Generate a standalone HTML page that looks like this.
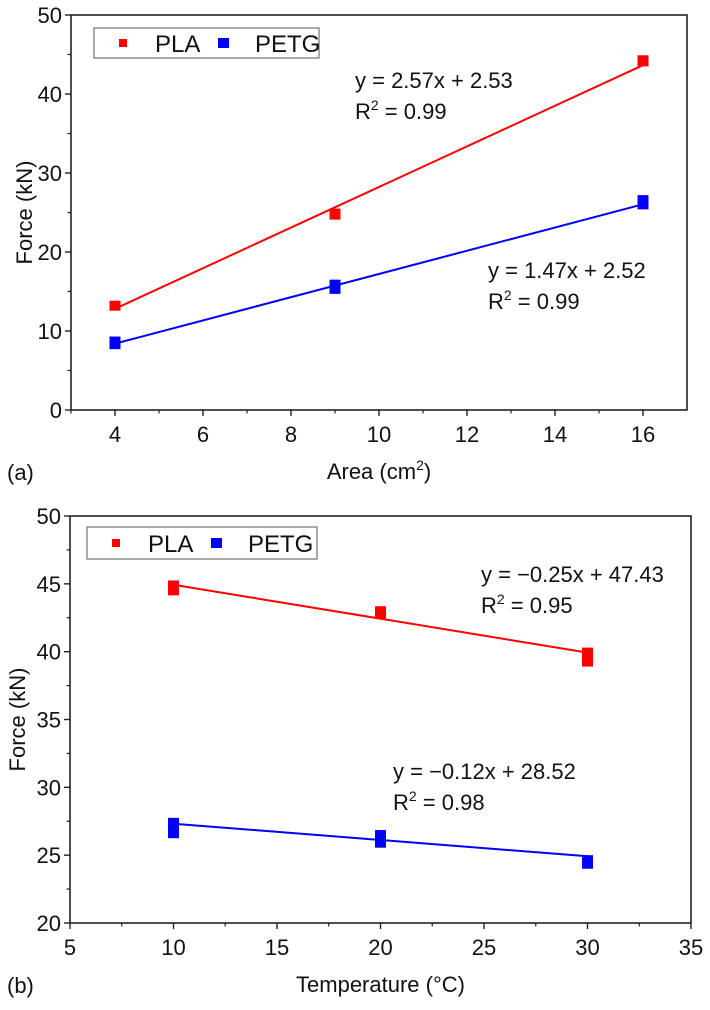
<!DOCTYPE html>
<html><head><meta charset="utf-8"><style>
body{margin:0;background:#fff}
svg{display:block;font-family:"Liberation Sans",Arial,sans-serif}
</style></head><body>
<svg id="fig" width="710" height="1010" viewBox="0 0 710 1010"></svg>
<script>
// Panel (a)
const areaX = [4, 9, 16];
const areaPLA = [13.2, 24.8, 44.2];
const areaPLAErr = [0.6, 0.7, 0.7];
const areaPETG = [8.5, 15.6, 26.3];
const areaPETGErr = [0.8, 0.9, 0.9];
const areaFitPLA = [2.57, 2.53];
const areaFitPETG = [1.47, 2.52];
const areaXTicks = [4, 6, 8, 10, 12, 14, 16];
const areaYTicks = [0, 10, 20, 30, 40, 50];
// Panel (b)
const tempX = [10, 20, 30];
const tempPLA = [44.7, 42.9, 39.6];
const tempPLAErr = [0.55, 0.45, 0.7];
const tempPETG = [27.0, 26.2, 24.5];
const tempPETGErr = [0.75, 0.65, 0.5];
const tempFitPLA = [-0.25, 47.43];
const tempFitPETG = [-0.12, 28.52];
const tempXTicks = [5, 10, 15, 20, 25, 30, 35];
const tempYTicks = [20, 25, 30, 35, 40, 45, 50];

const NS = "http://www.w3.org/2000/svg";
const svg = document.getElementById('fig');
function mk(tag, attrs, parent, text) {
  const e = document.createElementNS(NS, tag);
  for (const k in attrs) e.setAttribute(k, attrs[k]);
  if (text !== undefined) e.textContent = text;
  (parent || svg).appendChild(e);
  return e;
}

function panel(o) {
  const g = mk('g', {});
  
  
  const sx = v => o.L + (v - o.xmin) / (o.xmax - o.xmin) * (o.R - o.L);
  const sy = v => o.B - (v - o.ymin) / (o.ymax - o.ymin) * (o.B - o.T);
  const frame = mk('rect', {x:o.L, y:o.T, width:o.R-o.L, height:o.B-o.T, fill:'none', stroke:'#222', 'stroke-width':1.6}, g);
  
  
  const xStep = o.xt[1] - o.xt[0];
  o.xt.forEach((v, i) => {
    mk('line', {x1:sx(v), x2:sx(v), y1:o.B, y2:o.B+6, stroke:'#222', 'stroke-width':1.4}, g);
    if (i < o.xt.length - 1) mk('line', {x1:sx(v+xStep/2), x2:sx(v+xStep/2), y1:o.B, y2:o.B+3.5, stroke:'#222', 'stroke-width':1.2}, g);
    const t = mk('text', {x:sx(v), y:o.B+32, 'font-size':22, 'text-anchor':'middle', fill:'#111'}, g, String(v));
    
    
  });
  if (o.xminor) mk('line', {x1:sx(o.xmin), x2:sx(o.xmin), y1:o.B, y2:o.B+3.5, stroke:'#222', 'stroke-width':1.2}, g);
  const yStep = o.yt[1] - o.yt[0];
  o.yt.forEach((v, i) => {
    mk('line', {x1:o.L-6, x2:o.L, y1:sy(v), y2:sy(v), stroke:'#222', 'stroke-width':1.4}, g);
    if (i < o.yt.length - 1) mk('line', {x1:o.L-3.5, x2:o.L, y1:sy(v+yStep/2), y2:sy(v+yStep/2), stroke:'#222', 'stroke-width':1.2}, g);
    const t = mk('text', {x:o.L-9, y:sy(v)+8, 'font-size':22, 'text-anchor':'end', fill:'#111'}, g, String(v));
    
    
  });
  o.series.forEach(s => {
    const x0 = o.xs[0], x1 = o.xs[o.xs.length-1];
    const ln = mk('line', {x1:sx(x0), y1:sy(s.fit[0]*x0+s.fit[1]), x2:sx(x1), y2:sy(s.fit[0]*x1+s.fit[1]), stroke:s.color, 'stroke-width':2}, g);
    
    
    o.xs.forEach((xv, i) => {
      const top = sy(s.y[i] + s.err[i]), bot = sy(s.y[i] - s.err[i]);
      const h = Math.max(bot - top, 10);
      const r = mk('rect', {x:sx(xv)-5.5, y:(top+bot)/2 - h/2, width:11, height:h, fill:s.color}, g);
      
      
    });
    const eq = mk('text', {x:s.eqX, y:s.eqY, 'font-size':22, fill:'#111'}, g);
    
    
    const sign = s.fit[0] < 0 ? '\u2212' : '';
    eq.textContent = 'y = ' + sign + Math.abs(s.fit[0]).toFixed(2) + 'x + ' + s.fit[1].toFixed(2);
    const r2 = mk('text', {x:s.eqX, y:s.eqY+31, 'font-size':22, fill:'#111'}, g);
    
    
    r2.appendChild(document.createTextNode('R'));
    mk('tspan', {dy:-9, 'font-size':14}, r2, '2');
    mk('tspan', {dy:9}, r2, ' = ' + s.r2);
  });
  const lg = mk('g', {}, g);
  
  
  mk('rect', {x:o.lg[0], y:o.lg[1], width:o.lg[2], height:o.lg[3], fill:'#fff', stroke:'#555', 'stroke-width':1}, lg);
  const cy = o.lg[1] + o.lg[3]/2;
  mk('rect', {x:o.lg[0]+25, y:cy-4, width:8, height:8, fill:'#f00'}, lg);
  mk('text', {x:o.lg[0]+61, y:cy+9, 'font-size':24, fill:'#111'}, lg, 'PLA');
  mk('rect', {x:o.lg[0]+124, y:cy-5, width:11, height:10, fill:'#00f'}, lg);
  mk('text', {x:o.lg[0]+161, y:cy+9, 'font-size':24, fill:'#111'}, lg, 'PETG');
  const xt = mk('text', {x:(o.L+o.R)/2, y:o.B+69, 'font-size':22, 'text-anchor':'middle', fill:'#111'}, g);
  
  
  if (o.xtitleSup) {
    xt.appendChild(document.createTextNode('Area (cm'));
    mk('tspan', {dy:-9, 'font-size':14}, xt, '2');
    mk('tspan', {dy:9}, xt, ')');
  } else xt.textContent = o.xtitle;
  const ytt = mk('text', {x:0, y:0, 'font-size':22, 'text-anchor':'middle', fill:'#111', transform:'translate(' + o.ytX + ',' + ((o.T+o.B)/2) + ') rotate(-90)'}, g, 'Force (kN)');
  
  
  const pl = mk('text', {x:7, y:o.B+70, 'font-size':22, fill:'#111'}, g, o.label);
  
  
}

panel({name:'panel-a', L:71, R:687, T:15, B:410, xmin:3, xmax:17, ymin:0, ymax:50,
  xt:areaXTicks, yt:areaYTicks, xminor:true, xs:areaX, xtitleSup:true, ytX:32, label:'(a)',
  lg:[94,28,225,30],
  series:[
    {key:'pla', color:'#f00', y:areaPLA, err:areaPLAErr, fit:areaFitPLA, r2:'0.99', eqX:355, eqY:88},
    {key:'petg', color:'#00f', y:areaPETG, err:areaPETGErr, fit:areaFitPETG, r2:'0.99', eqX:488, eqY:278}
  ]});
panel({name:'panel-b', L:70, R:691, T:516, B:923, xmin:5, xmax:35, ymin:20, ymax:50,
  xt:tempXTicks, yt:tempYTicks, xminor:false, xs:tempX, xtitle:'Temperature (\u00B0C)', ytX:25, label:'(b)',
  lg:[87,527,230,32],
  series:[
    {key:'pla', color:'#f00', y:tempPLA, err:tempPLAErr, fit:tempFitPLA, r2:'0.95', eqX:481, eqY:582},
    {key:'petg', color:'#00f', y:tempPETG, err:tempPETGErr, fit:tempFitPETG, r2:'0.98', eqX:393, eqY:779}
  ]});
</script>
</body></html>
